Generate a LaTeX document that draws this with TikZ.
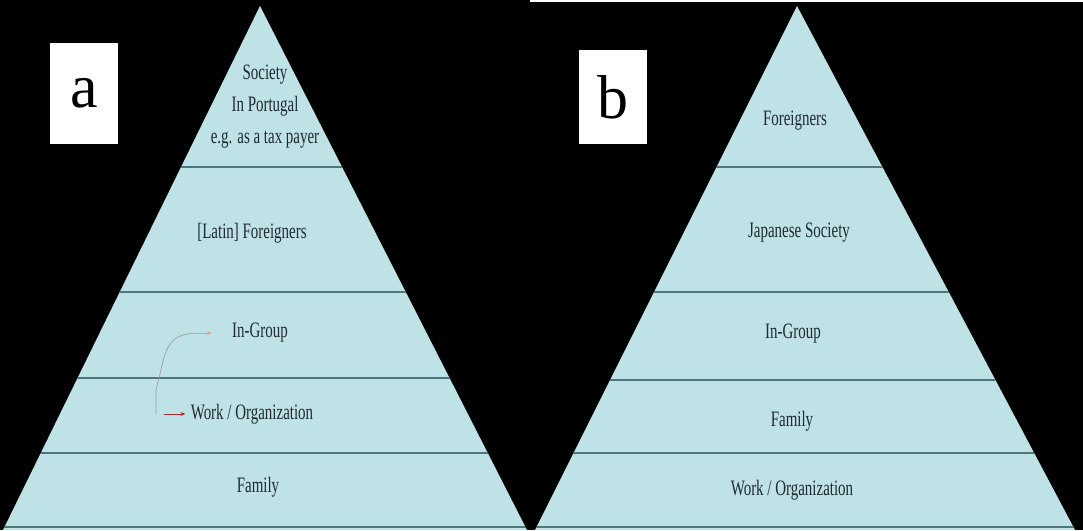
\documentclass[tikz,border=0pt]{standalone}
\usepackage{fontspec}
\setmainfont{Liberation Serif}
\usepackage{tikz}
\usetikzlibrary{arrows.meta, positioning, calc}
\definecolor{pyrblue}{RGB}{190, 226, 229}
\definecolor{pyrline}{RGB}{78, 118, 124}
\definecolor{tiertext}{RGB}{32, 42, 48}
\definecolor{arrowred}{RGB}{170, 40, 50}
\newcommand\tierfont{\fontsize{22}{32}\selectfont}
\newcommand\tagfont{\fontsize{62}{62}\selectfont}
\tikzset{
    divider/.style={draw=pyrline, line width=2pt},
    tier/.style={font=\tierfont, text=tiertext, xscale=0.68, align=center},
    tagbox/.style={rectangle, fill=white, inner sep=0pt, minimum width=68pt, font=\tagfont},
    link/.style={-{Stealth[length=5pt, width=4pt]}, draw=arrowred, line width=0.9pt},
    guide/.style={draw=gray!75, line width=0.7pt}
}

\begin{document}
\begin{tikzpicture}[x=1pt, y=-1pt]
        \useasboundingbox (0,0) rectangle (1083,530);
        % background
        \fill[black] (0,0) rectangle (1083,530);
        \fill[white] (530,0) rectangle (1083,1.5);

        % left pyramid (a)
        \begin{scope}
            \clip (260,6) -- (3,530) -- (527,530) -- cycle;
            \fill[pyrblue] (0,0) rectangle (540,530);
            \foreach \y in {167,292,378,453,527}
                \draw[divider] (0,\y) -- (540,\y);
        \end{scope}

        % right pyramid (b)
        \begin{scope}
            \clip (797,6) -- (535,530) -- (1075,530) -- cycle;
            \fill[pyrblue] (530,0) rectangle (1083,530);
            \foreach \y in {167,292,380,453,527}
                \draw[divider] (530,\y) -- (1083,\y);
        \end{scope}

        % panel tags
        \node[tagbox, minimum height=101pt] (tagA) at (84,93.5) {a};
        \node[tagbox, minimum height=94pt] (tagB) at (612.5,97) {b};

        % tiers of (a)
        \node[tier] (socA) at (265,107) {Society\\In Portugal\\e.g. as a tax payer};
        \node[tier] (latinA) at (252,233) {[Latin] Foreigners};
        \node[tier] (groupA) at (260,333) {In-Group};
        \node[tier] (workA) at (252,414) {Work / Organization};
        \node[tier] (familyA) at (258,487) {Family};

        % tiers of (b)
        \node[tier] (foreignB) at (795,121) {Foreigners};
        \node[tier] (societyB) at (799,233) {Japanese Society};
        \node[tier] (groupB) at (793,334) {In-Group};
        \node[tier] (familyB) at (792,421) {Family};
        \node[tier] (workB) at (792,490) {Work / Organization};

        % moving up from work to in-group
        \coordinate (footA) at (156,414);
        \coordinate (kneeA) at (156,390);
        \coordinate (upA) at (196,333);
        \draw[guide] (footA) -- (kneeA) -- (161,370) .. controls (166,345) and (172,334) .. (upA);
        \draw[link, draw=arrowred!45, shorten >=18pt] (upA) -- (groupA.west);
        \draw[link, shorten >=3pt] ([xshift=8pt]footA) -- (workA.west);
    \end{tikzpicture}
\end{document}
